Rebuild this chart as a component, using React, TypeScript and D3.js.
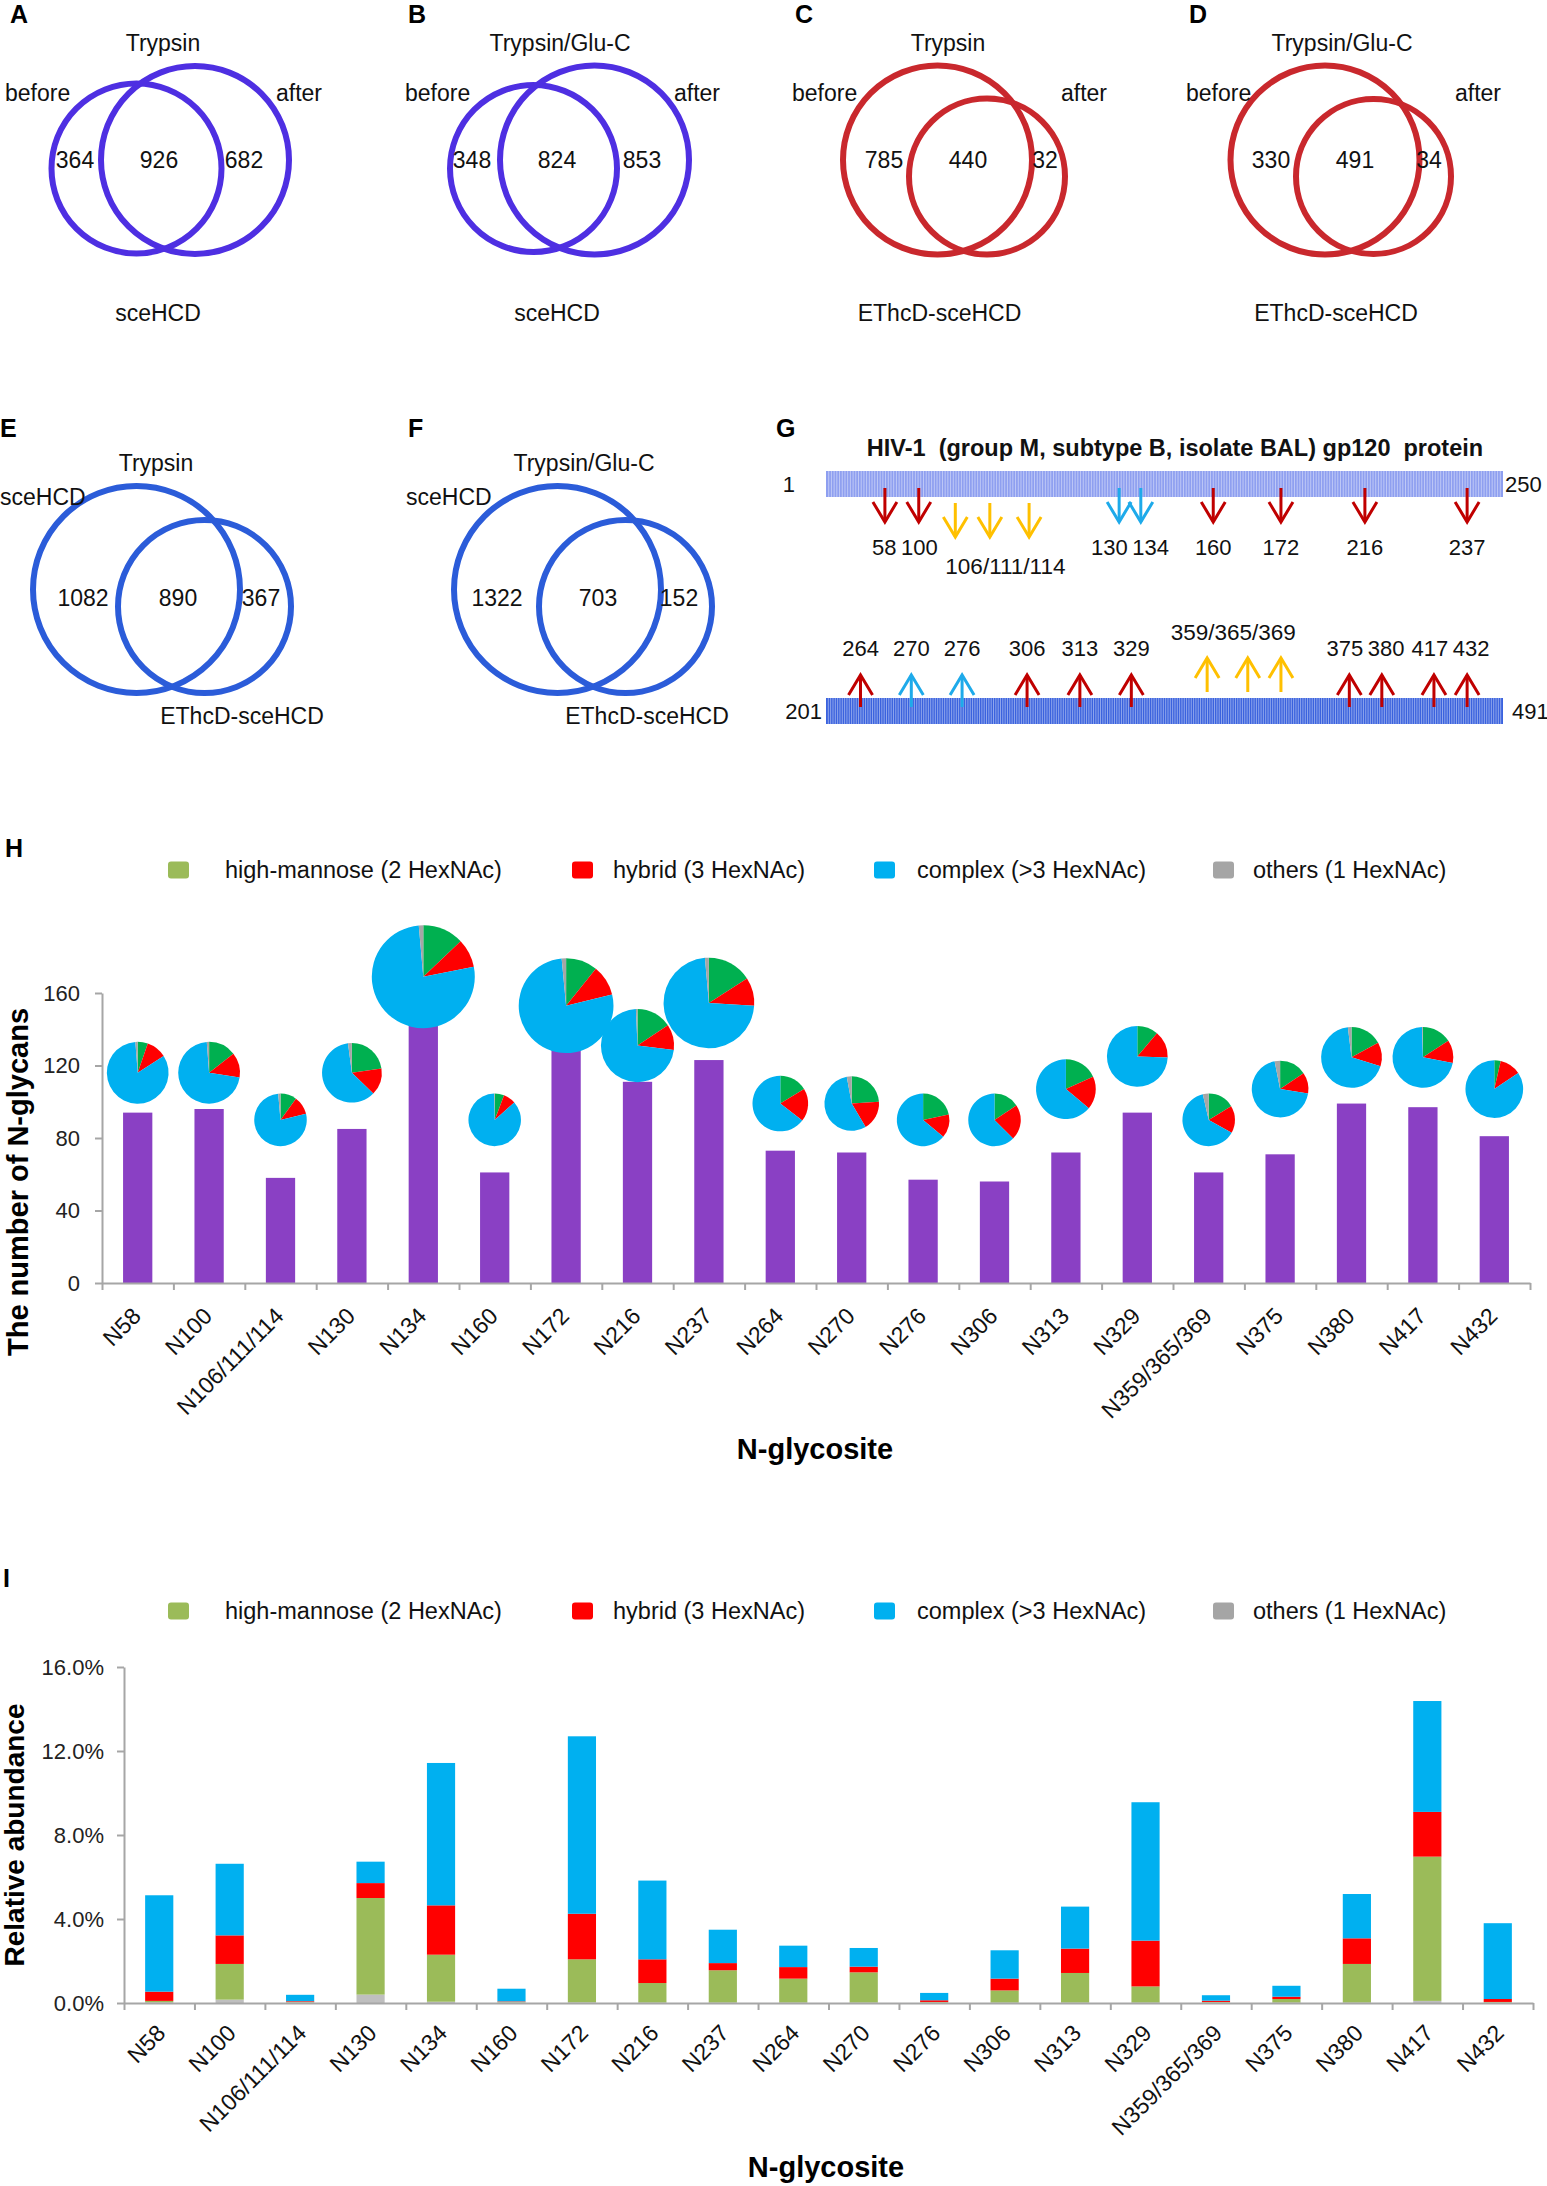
import { useEffect, useRef } from "react";
import * as d3 from "d3";

const W = 1547;
const H = 2186;
const FONT = "'Liberation Sans', Arial, Helvetica, sans-serif";

// ---- panels A-F: Venn diagrams ----
const vennLetters = ["A", "B", "C", "D", "E", "F"];
const vennTitles = ["Trypsin", "Trypsin/Glu-C", "Trypsin", "Trypsin/Glu-C", "Trypsin", "Trypsin/Glu-C"];
const vennLeftSets = ["before", "before", "before", "before", "sceHCD", "sceHCD"];
const vennRightSets = ["after", "after", "after", "after", "", ""];
const vennBottomSets = ["sceHCD", "sceHCD", "EThcD-sceHCD", "EThcD-sceHCD", "EThcD-sceHCD", "EThcD-sceHCD"];
const vennOnlyLeft = [364, 348, 785, 330, 1082, 1322];
const vennBoth = [926, 824, 440, 491, 890, 703];
const vennOnlyRight = [682, 853, 32, 34, 367, 152];

// ---- panel G: gp120 glycosites ----
const gTitle = "HIV-1  (group M, subtype B, isolate BAL) gp120  protein";
const gTopResidues = [58, 100, 106, 111, 114, 130, 134, 160, 172, 216, 237];
const gTopKinds = ["red", "red", "gold", "gold", "gold", "blue", "blue", "red", "red", "red", "red"];
const gBottomResidues = [264, 270, 276, 306, 313, 329, 359, 365, 369, 375, 380, 417, 432];
const gBottomKinds = ["red", "blue", "blue", "red", "red", "red", "gold", "gold", "gold", "red", "red", "red", "red"];

// ---- panels H and I ----
const sites = [
  "N58", "N100", "N106/111/114", "N130", "N134", "N160", "N172", "N216", "N237", "N264",
  "N270", "N276", "N306", "N313", "N329", "N359/365/369", "N375", "N380", "N417", "N432",
];
const glycanCounts = [94, 96, 58, 85, 150, 61, 133, 111, 123, 73, 72, 57, 56, 72, 94, 61, 71, 99, 97, 81];
const pieCenterValues = [116, 116, 90, 116, 169, 90, 153, 131, 154.5, 99, 99, 90, 90, 107, 125, 90, 107, 124.5, 124.5, 107];
const pieSizes = [60, 60, 51, 58, 100, 51, 92, 71, 88, 54, 53, 51, 51, 58, 59, 51, 55, 59, 59, 56];
const pieHighMannose = [0.053, 0.144, 0.1, 0.227, 0.129, 0.058, 0.108, 0.156, 0.159, 0.163, 0.24, 0.217, 0.157, 0.182, 0.112, 0.163, 0.155, 0.17, 0.158, 0.036];
const pieHybrid = [0.106, 0.131, 0.113, 0.146, 0.09, 0.076, 0.104, 0.113, 0.101, 0.192, 0.175, 0.144, 0.218, 0.179, 0.143, 0.168, 0.12, 0.128, 0.122, 0.12];
const pieComplex = [0.829, 0.713, 0.773, 0.606, 0.767, 0.862, 0.773, 0.724, 0.726, 0.645, 0.556, 0.639, 0.625, 0.639, 0.745, 0.633, 0.694, 0.683, 0.715, 0.844];
const pieOthers = [0.012, 0.012, 0.014, 0.021, 0.014, 0.004, 0.015, 0.007, 0.014, 0, 0.029, 0, 0, 0, 0, 0.036, 0.031, 0.019, 0.005, 0];

// relative abundance, %
const abOthers = [0.03, 0.16, 0.03, 0.4, 0.06, 0.03, 0.03, 0.02, 0.02, 0.02, 0.02, 0.02, 0.02, 0.02, 0.02, 0.02, 0.02, 0.02, 0.1, 0.02];
const abHighMannose = [0.07, 1.7, 0.03, 4.6, 2.24, 0.03, 2.05, 0.93, 1.54, 1.14, 1.44, 0.03, 0.58, 1.41, 0.77, 0.03, 0.17, 1.84, 6.87, 0.03];
const abHybrid = [0.44, 1.36, 0.03, 0.71, 2.35, 0.02, 2.17, 1.13, 0.34, 0.55, 0.27, 0.08, 0.56, 1.16, 2.18, 0.06, 0.11, 1.22, 2.13, 0.14];
const abComplex = [4.59, 3.41, 0.3, 1.02, 6.78, 0.6, 8.45, 3.75, 1.59, 1.02, 0.89, 0.35, 1.35, 2.0, 6.59, 0.26, 0.52, 2.11, 5.28, 3.61];

const legendLabels = ["high-mannose (2 HexNAc)", "hybrid (3 HexNAc)", "complex (>3 HexNAc)", "others (1 HexNAc)"];
const countTicks = [0, 40, 80, 120, 160];
const abundanceTicks = [0, 4, 8, 12, 16];

// layout of the hand-drawn Venn panels
const VIOLET = "#4e2fe2";
const CRIMSON = "#c9282d";
const ROYAL = "#2b5cd9";
const vennLayout = [
  { letter: [10, 23], c1: [136.5, 168.5, 85], c2: [195, 160, 94], title: [163, 43], left: [5, 93], right: [276, 93], nums: [75, 159, 244], ny: 160, bottom: [158, 313], color: VIOLET },
  { letter: [408, 23], c1: [533.5, 168.5, 83.5], c2: [594.5, 160, 94.5], title: [560, 43], left: [405, 93], right: [674, 93], nums: [472, 557, 642], ny: 160, bottom: [557, 313], color: VIOLET },
  { letter: [795, 23], c1: [937.5, 160, 94.5], c2: [987, 176.5, 78], title: [948, 43], left: [792, 93], right: [1061, 93], nums: [884, 968, 1045], ny: 160, bottom: [939.5, 313], color: CRIMSON },
  { letter: [1189, 23], c1: [1325, 160, 94.5], c2: [1373.5, 176.5, 77.5], title: [1342, 43], left: [1186, 93], right: [1455, 93], nums: [1271, 1355, 1429], ny: 160, bottom: [1336, 313], color: CRIMSON },
  { letter: [0, 437], c1: [136.5, 589.5, 103.5], c2: [204.5, 606.5, 86.5], title: [156, 463], left: [0, 497], right: null, nums: [83, 178, 261], ny: 598, bottom: [242, 716], color: ROYAL },
  { letter: [408, 437], c1: [557.5, 589.5, 103.5], c2: [625.5, 606.5, 86.5], title: [584, 463], left: [406, 497], right: null, nums: [497, 598, 679], ny: 598, bottom: [647, 716], color: ROYAL },
];

const arrowColor = { red: "#c00000", gold: "#ffc000", blue: "#1eaaea" };
const PIE_COLORS = ["#00b050", "#ff0000", "#00b0f0", "#a6a6a6"];
const LEGEND_COLORS = ["#9bbb59", "#ff0000", "#00b0f0", "#a5a5a5"];
const STACK_COLORS = { others: "#bfbfbf", highMannose: "#9bbb59", hybrid: "#ff0000", complex: "#00b0f0" };
const AXIS = "#a6a6a6";

function label(parent, x, y, text, o: any = {}) {
  return parent
    .append("text")
    .attr("x", x)
    .attr("y", y)
    .attr("font-family", FONT)
    .attr("font-size", o.size ?? 23)
    .attr("font-weight", o.weight ?? "normal")
    .attr("text-anchor", o.anchor ?? "start")
    .attr("dominant-baseline", o.baseline ?? "central")
    .attr("fill", o.fill ?? "#111")
    .style("white-space", "pre")
    .text(text);
}

function drawLegend(svg, y) {
  const squareX = [168, 572, 874, 1213];
  const textX = [225, 613, 917, 1253];
  legendLabels.forEach((t, i) => {
    svg.append("rect").attr("x", squareX[i]).attr("y", y - 8.5).attr("width", 21).attr("height", 17).attr("rx", 3).attr("fill", LEGEND_COLORS[i]);
    label(svg, textX[i], y, t, { size: 23.5 });
  });
}

function styleAxis(g, size) {
  g.attr("font-family", FONT).attr("font-size", size);
  g.select(".domain").attr("stroke", AXIS).attr("stroke-width", 2);
  g.selectAll(".tick line").attr("stroke", AXIS).attr("stroke-width", 2);
  g.selectAll(".tick text").attr("fill", "#222");
}

function drawSiteAxis(svg, x0, x1, y0, band, dx, dy) {
  const idx = d3.scaleLinear().domain([0, sites.length]).range([x0, x1]);
  const ax = svg
    .append("g")
    .attr("transform", `translate(0,${y0})`)
    .call(d3.axisBottom(idx).tickValues(d3.range(sites.length + 1)).tickSize(7).tickSizeOuter(0).tickFormat(() => ""));
  styleAxis(ax, 20);
  sites.forEach((s) => {
    const cx = band(s) + band.bandwidth() / 2;
    svg
      .append("text")
      .attr("transform", `translate(${cx + dx},${y0 + dy}) rotate(-45)`)
      .attr("text-anchor", "end")
      .attr("dy", "0.71em")
      .attr("font-family", FONT)
      .attr("font-size", 23)
      .attr("fill", "#111")
      .text(s);
  });
}

const App = () => {
  const svgRef = useRef(null);

  useEffect(() => {
    const svg = d3.select(svgRef.current);
    svg.selectAll("*").remove();
    svg.append("rect").attr("width", W).attr("height", H).attr("fill", "#fff");

    // ---------- A-F ----------
    vennLayout.forEach((L, i) => {
      const g = svg.append("g");
      label(g, L.letter[0], L.letter[1], vennLetters[i], { size: 25, weight: "bold", baseline: "auto", fill: "#000" });
      [L.c1, L.c2].forEach((c) =>
        g.append("circle").attr("cx", c[0]).attr("cy", c[1]).attr("r", c[2]).attr("fill", "none").attr("stroke", L.color).attr("stroke-width", 6)
      );
      label(g, L.title[0], L.title[1], vennTitles[i], { anchor: "middle" });
      label(g, L.left[0], L.left[1], vennLeftSets[i]);
      if (L.right) label(g, L.right[0], L.right[1], vennRightSets[i]);
      [vennOnlyLeft[i], vennBoth[i], vennOnlyRight[i]].forEach((v, k) => label(g, L.nums[k], L.ny, String(v), { anchor: "middle" }));
      label(g, L.bottom[0], L.bottom[1], vennBottomSets[i], { anchor: "middle" });
    });

    // ---------- G ----------
    const gG = svg.append("g");
    label(gG, 776, 437, "G", { size: 25, weight: "bold", baseline: "auto", fill: "#000" });
    label(gG, 1175, 448, gTitle, { anchor: "middle", weight: "bold", size: 23.5 });
    const barX = d3.scaleLinear().domain([0, 1]).range([826, 1503]);
    // schematic (not to scale) placement of the glycosites along each strip
    const topPos = d3.scaleLinear()
      .domain([1, 58, 100, 106, 111, 114, 130, 134, 160, 172, 216, 237, 250])
      .range([0, 0.087, 0.137, 0.191, 0.242, 0.3, 0.433, 0.465, 0.572, 0.672, 0.796, 0.947, 1]);
    const bottomPos = d3.scaleLinear()
      .domain([201, 264, 270, 276, 306, 313, 329, 359, 365, 369, 375, 380, 417, 432, 491])
      .range([0, 0.051, 0.126, 0.201, 0.297, 0.375, 0.451, 0.563, 0.623, 0.672, 0.773, 0.821, 0.898, 0.947, 1]);

    const strip = (y, h, fill, n) => {
      gG.append("rect").attr("x", barX(0)).attr("y", y).attr("width", barX(1) - barX(0)).attr("height", h).attr("fill", fill);
      gG.selectAll(null)
        .data(d3.range(1, n))
        .join("line")
        .attr("x1", (k) => barX(k / n))
        .attr("x2", (k) => barX(k / n))
        .attr("y1", y)
        .attr("y2", y + h)
        .attr("stroke", "#fff")
        .attr("stroke-opacity", 0.55)
        .attr("stroke-width", 0.8);
    };
    strip(471, 26, "#8e9ff0", 250);
    strip(698, 26, "#3a62de", 291);
    label(gG, 795, 484, "1", { anchor: "end", size: 22 });
    label(gG, 1505, 484, "250", { size: 22 });
    label(gG, 822, 711, "201", { anchor: "end", size: 22 });
    label(gG, 1512, 711, "491", { size: 22 });

    const arrow = (x, tail, tip, color) => {
      const dir = tip > tail ? -1 : 1;
      gG.append("line").attr("x1", x).attr("x2", x).attr("y1", tail).attr("y2", tip).attr("stroke", color).attr("stroke-width", 3);
      gG.append("path")
        .attr("d", `M${x - 12},${tip + dir * 20}L${x},${tip}L${x + 12},${tip + dir * 20}`)
        .attr("fill", "none")
        .attr("stroke", color)
        .attr("stroke-width", 3);
    };

    const siteLabels = (xs, residues, kinds, y, groupY, below) => {
      const singles = [];
      const group = [];
      residues.forEach((r, i) => (kinds[i] === "gold" ? group.push(i) : singles.push({ t: String(r), x: xs[i] })));
      for (let pass = 0; pass < 6; pass++) {
        for (let k = 0; k < singles.length - 1; k++) {
          const a = singles[k];
          const b = singles[k + 1];
          const need = (a.t.length + b.t.length) * 6.2 + 4;
          const over = need - (b.x - a.x);
          if (over > 0) {
            a.x -= over / 2;
            b.x += over / 2;
          }
        }
      }
      singles.forEach((s) => label(gG, s.x, y, s.t, { anchor: "middle", size: 22 }));
      const gx = d3.mean(group, (i) => xs[i]);
      label(gG, gx + (below ? 14 : -12), groupY, group.map((i) => residues[i]).join("/"), { anchor: "middle", size: 22.5 });
    };

    const topX = gTopResidues.map((r) => barX(topPos(r)));
    gTopResidues.forEach((r, i) => {
      const gold = gTopKinds[i] === "gold";
      arrow(topX[i], gold ? 503 : 488, gold ? 537 : 522, arrowColor[gTopKinds[i]]);
    });
    siteLabels(topX, gTopResidues, gTopKinds, 547, 566, true);

    const botX = gBottomResidues.map((r) => barX(bottomPos(r)));
    gBottomResidues.forEach((r, i) => {
      const gold = gBottomKinds[i] === "gold";
      arrow(botX[i], gold ? 692 : 707, gold ? 658 : 675, arrowColor[gBottomKinds[i]]);
    });
    siteLabels(botX, gBottomResidues, gBottomKinds, 648, 632, false);

    // ---------- H ----------
    label(svg, 5, 857, "H", { size: 25, weight: "bold", baseline: "auto", fill: "#000" });
    drawLegend(svg, 870);
    const hx = d3.scaleBand().domain(sites).range([102, 1530]).paddingInner(0.59).paddingOuter(0.295);
    const hy = d3.scaleLinear().domain([0, 160]).range([1283, 993]);
    const rScale = d3.scaleLinear().domain([0, 100]).range([0, 51.5]);

    svg.append("g")
      .selectAll("rect")
      .data(sites)
      .join("rect")
      .attr("x", (s) => hx(s))
      .attr("width", hx.bandwidth())
      .attr("y", (s, i) => hy(glycanCounts[i]))
      .attr("height", (s, i) => hy(0) - hy(glycanCounts[i]))
      .attr("fill", "#8a40c4");

    const yAxH = svg.append("g").attr("transform", "translate(102,0)")
      .call(d3.axisLeft(hy).tickValues(countTicks).tickSize(7).tickSizeOuter(0).tickPadding(15).tickFormat(d3.format("d")));
    styleAxis(yAxH, 22);
    drawSiteAxis(svg, 102, 1530, 1283, hx, -7, 23);

    const pie = d3.pie<number>().sort(null).value((d) => d);
    sites.forEach((s, i) => {
      const r = rScale(pieSizes[i]);
      const arc = d3.arc().innerRadius(0).outerRadius(r);
      const parts = [pieHighMannose[i], pieHybrid[i], pieComplex[i], pieOthers[i]];
      const g = svg.append("g").attr("transform", `translate(${hx(s) + hx.bandwidth() / 2},${hy(pieCenterValues[i])})`);
      g.selectAll("path")
        .data(pie(parts))
        .join("path")
        .attr("d", arc as any)
        .attr("fill", (d, k) => PIE_COLORS[k]);
    });

    svg.append("text")
      .attr("transform", "translate(18,1182) rotate(-90)")
      .attr("text-anchor", "middle")
      .attr("dominant-baseline", "central")
      .attr("font-family", FONT)
      .attr("font-size", 29)
      .attr("font-weight", "bold")
      .text("The number of N-glycans");
    label(svg, 815, 1449, "N-glycosite", { anchor: "middle", size: 29, weight: "bold", fill: "#000" });

    // ---------- I ----------
    label(svg, 3, 1587, "I", { size: 25, weight: "bold", baseline: "auto", fill: "#000" });
    drawLegend(svg, 1611);
    const ix = d3.scaleBand().domain(sites).range([124, 1533]).paddingInner(0.6).paddingOuter(0.3);
    const iy = d3.scaleLinear().domain([0, 16]).range([2003, 1667]);
    const table = sites.map((s, i) => ({
      site: s,
      others: abOthers[i],
      highMannose: abHighMannose[i],
      hybrid: abHybrid[i],
      complex: abComplex[i],
    }));
    const keys = ["others", "highMannose", "hybrid", "complex"];
    const stacked = d3.stack().keys(keys)(table as any);
    svg.append("g")
      .selectAll("g")
      .data(stacked)
      .join("g")
      .attr("fill", (d) => STACK_COLORS[d.key])
      .selectAll("rect")
      .data((d) => d)
      .join("rect")
      .attr("x", (d: any) => ix(d.data.site))
      .attr("width", ix.bandwidth())
      .attr("y", (d) => iy(d[1]))
      .attr("height", (d) => iy(d[0]) - iy(d[1]));

    const yAxI = svg.append("g").attr("transform", "translate(124,0)")
      .call(d3.axisLeft(iy).tickValues(abundanceTicks).tickSize(7).tickSizeOuter(0).tickPadding(13).tickFormat((d) => `${(+d).toFixed(1)}%`));
    styleAxis(yAxI, 22);
    drawSiteAxis(svg, 124, 1533, 2003, ix, -4, 20);

    svg.append("text")
      .attr("transform", "translate(14,1835) rotate(-90)")
      .attr("text-anchor", "middle")
      .attr("dominant-baseline", "central")
      .attr("font-family", FONT)
      .attr("font-size", 28)
      .attr("font-weight", "bold")
      .text("Relative abundance");
    label(svg, 826, 2167, "N-glycosite", { anchor: "middle", size: 29, weight: "bold", fill: "#000" });
  }, []);

  return (
    <svg
      ref={svgRef}
      width={W}
      height={H}
      style={{ position: "absolute", left: 0, top: 0, display: "block" }}
    ></svg>
  );
};

export default App;
